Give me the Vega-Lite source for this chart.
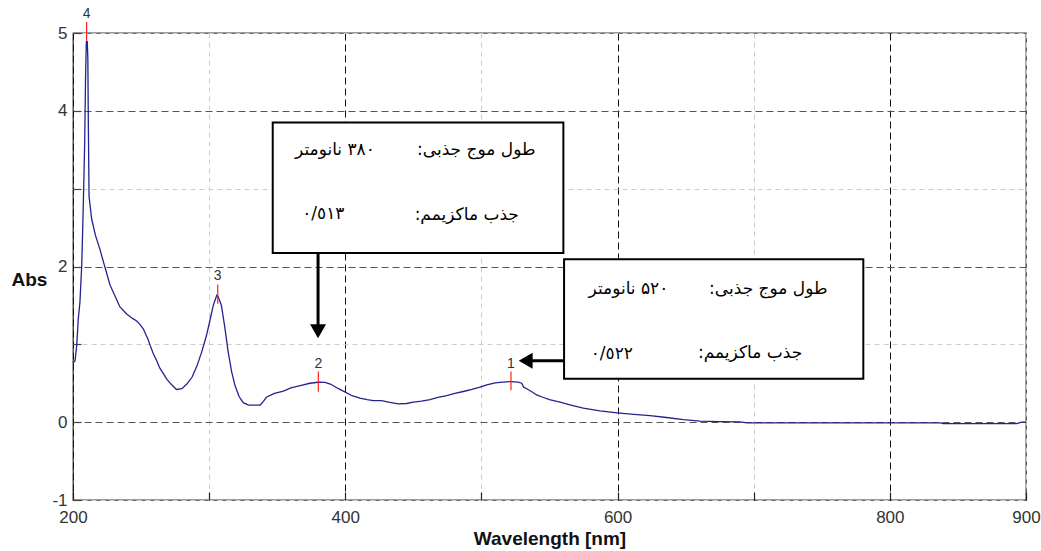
{
  "$schema": "https://vega.github.io/schema/vega-lite/v6.json",
  "width": 953,
  "height": 467,
  "autosize": {"type": "none"},
  "padding": {"left": 73, "top": 33, "right": 15, "bottom": 51},
  "background": "white",
  "config": {
    "view": {"stroke": "#3a3a3a", "strokeWidth": 1.3},
    "font": "Liberation Sans"
  },
  "datasets": {
    "spectrum": [
      {"nm": 200, "abs": 0.76}, {"nm": 201.5, "abs": 0.79}, {"nm": 202.7, "abs": 0.98},
      {"nm": 203.9, "abs": 1.33}, {"nm": 205.1, "abs": 1.54}, {"nm": 206.4, "abs": 2.01},
      {"nm": 207.2, "abs": 2.53}, {"nm": 208.1, "abs": 3.2}, {"nm": 208.6, "abs": 3.6},
      {"nm": 209.2, "abs": 4.41}, {"nm": 209.8, "abs": 4.89}, {"nm": 210.5, "abs": 4.89},
      {"nm": 210.9, "abs": 4.67}, {"nm": 211.3, "abs": 3.77}, {"nm": 211.8, "abs": 2.9},
      {"nm": 213.7, "abs": 2.61}, {"nm": 216.5, "abs": 2.4}, {"nm": 219.8, "abs": 2.22},
      {"nm": 222.5, "abs": 2.05}, {"nm": 224.8, "abs": 1.91}, {"nm": 227.0, "abs": 1.77},
      {"nm": 229.6, "abs": 1.67}, {"nm": 234.5, "abs": 1.48}, {"nm": 239.4, "abs": 1.39},
      {"nm": 244, "abs": 1.33}, {"nm": 246.8, "abs": 1.3}, {"nm": 249, "abs": 1.26},
      {"nm": 251.6, "abs": 1.2}, {"nm": 255, "abs": 1.07}, {"nm": 256.6, "abs": 0.99},
      {"nm": 259, "abs": 0.88}, {"nm": 261.5, "abs": 0.79}, {"nm": 263.9, "abs": 0.69},
      {"nm": 266.5, "abs": 0.62}, {"nm": 269, "abs": 0.55}, {"nm": 272.5, "abs": 0.48},
      {"nm": 276, "abs": 0.42}, {"nm": 280, "abs": 0.43}, {"nm": 283.6, "abs": 0.49},
      {"nm": 287.5, "abs": 0.58}, {"nm": 291, "abs": 0.72}, {"nm": 294.5, "abs": 0.9},
      {"nm": 298, "abs": 1.11}, {"nm": 300.5, "abs": 1.3}, {"nm": 303, "abs": 1.5},
      {"nm": 305.6, "abs": 1.63}, {"nm": 306.5, "abs": 1.62}, {"nm": 309, "abs": 1.5},
      {"nm": 311.5, "abs": 1.22}, {"nm": 314, "abs": 0.9}, {"nm": 316.5, "abs": 0.65},
      {"nm": 319, "abs": 0.47}, {"nm": 322, "abs": 0.33}, {"nm": 325, "abs": 0.25},
      {"nm": 329, "abs": 0.22}, {"nm": 332.6, "abs": 0.22}, {"nm": 337.5, "abs": 0.22},
      {"nm": 340, "abs": 0.27}, {"nm": 342, "abs": 0.32}, {"nm": 348, "abs": 0.37},
      {"nm": 354.6, "abs": 0.4}, {"nm": 360, "abs": 0.44}, {"nm": 367, "abs": 0.47},
      {"nm": 374, "abs": 0.5}, {"nm": 380, "abs": 0.513}, {"nm": 385, "abs": 0.51},
      {"nm": 389, "abs": 0.49}, {"nm": 395, "abs": 0.43}, {"nm": 400, "abs": 0.386},
      {"nm": 405, "abs": 0.34}, {"nm": 410.8, "abs": 0.31}, {"nm": 416, "abs": 0.29},
      {"nm": 420.6, "abs": 0.278}, {"nm": 426.7, "abs": 0.278}, {"nm": 431.6, "abs": 0.257},
      {"nm": 439, "abs": 0.235}, {"nm": 445, "abs": 0.24}, {"nm": 450, "abs": 0.257},
      {"nm": 456, "abs": 0.27}, {"nm": 462.2, "abs": 0.291}, {"nm": 468, "abs": 0.32},
      {"nm": 474.5, "abs": 0.342}, {"nm": 480.5, "abs": 0.37}, {"nm": 486.7, "abs": 0.394},
      {"nm": 493, "abs": 0.42}, {"nm": 499, "abs": 0.45}, {"nm": 504, "abs": 0.48},
      {"nm": 510, "abs": 0.506}, {"nm": 516, "abs": 0.515}, {"nm": 521, "abs": 0.522},
      {"nm": 527, "abs": 0.515}, {"nm": 529.6, "abs": 0.5}, {"nm": 531, "abs": 0.45},
      {"nm": 533.3, "abs": 0.43}, {"nm": 537, "abs": 0.39}, {"nm": 540.6, "abs": 0.35},
      {"nm": 545, "abs": 0.32}, {"nm": 550, "abs": 0.29}, {"nm": 557.7, "abs": 0.257},
      {"nm": 565, "abs": 0.223}, {"nm": 574.8, "abs": 0.18}, {"nm": 587, "abs": 0.145},
      {"nm": 599.8, "abs": 0.12}, {"nm": 612, "abs": 0.1}, {"nm": 623.8, "abs": 0.085},
      {"nm": 636, "abs": 0.06}, {"nm": 648.3, "abs": 0.033}, {"nm": 660.6, "abs": 0.013},
      {"nm": 675, "abs": 0.008}, {"nm": 690, "abs": 0.005}, {"nm": 695, "abs": -0.01},
      {"nm": 720, "abs": -0.01}, {"nm": 760, "abs": -0.01}, {"nm": 800, "abs": -0.01},
      {"nm": 837, "abs": -0.01}, {"nm": 839.3, "abs": -0.02}, {"nm": 860, "abs": -0.02},
      {"nm": 893, "abs": -0.02}, {"nm": 897, "abs": 0.0}, {"nm": 900, "abs": 0.0}
    ],
    "peaks": [
      {"nm": 210, "lo": 4.89, "hi": 5.14, "label": "4"},
      {"nm": 306.3, "lo": 1.52, "hi": 1.77, "label": "3"},
      {"nm": 380.2, "lo": 0.39, "hi": 0.65, "label": "2"},
      {"nm": 521.7, "lo": 0.41, "hi": 0.65, "label": "1"}
    ],
    "boxes": [
      {"x1": 346.7, "x2": 560.2, "y1": 2.175, "y2": 3.851},
      {"x1": 560.7, "x2": 780.5, "y1": 0.557, "y2": 2.092}
    ],
    "arrows": [
      {"x1": 380, "x2": 380, "y1": 2.175, "y2": 1.24},
      {"x1": 560.7, "x2": 537, "y1": 0.79, "y2": 0.79}
    ],
    "heads": [
      {"x": 380, "y": 1.168, "shape": "triangle-down"},
      {"x": 532.5, "y": 0.79, "shape": "triangle-left"}
    ],
    "notes": [
      {"x": 496.2, "y": 3.43, "text": "طول موج جذبی:\u200F"},
      {"x": 392.4, "y": 3.43, "text": "\u200F۳۸۰ نانومتر"},
      {"x": 489.2, "y": 2.6, "text": "جذب ماکزیمم:\u200F"},
      {"x": 383.9, "y": 2.61, "text": "٠/٥١٣"},
      {"x": 710.7, "y": 1.65, "text": "طول موج جذبی:\u200F"},
      {"x": 608.0, "y": 1.65, "text": "\u200F۵۲۰ نانومتر"},
      {"x": 697.3, "y": 0.83, "text": "جذب ماکزیمم:\u200F"},
      {"x": 595.8, "y": 0.81, "text": "٠/٥٢٢"}
    ]
  },
  "layer": [
    {
      "data": {"name": "spectrum"},
      "mark": {"type": "line", "color": "#23238f", "strokeWidth": 1.3, "interpolate": "linear"},
      "encoding": {
        "x": {
          "field": "nm", "type": "quantitative",
          "scale": {"domain": [200, 900], "nice": false, "zero": false},
          "axis": {
            "values": [200, 300, 400, 500, 600, 700, 800, 900],
            "labelExpr": "datum.value == 300 || datum.value == 500 || datum.value == 700 ? '' : toString(datum.value)",
            "domain": false,
            "grid": true,
            "gridColor": {"condition": {"test": "datum.value % 200 == 0", "value": "#111111"}, "value": "#cccccc"},
            "gridDash": {"condition": {"test": "datum.value % 200 == 0", "value": [7, 4]}, "value": [5, 4]},
            "gridWidth": 1,
            "tickSize": -8,
            "tickColor": "#222222",
            "tickWidth": 1.2,
            "labelPadding": 17,
            "labelFontSize": 17,
            "labelColor": "#333333",
            "labelFlush": false,
            "title": "Wavelength [nm]",
            "titleFontSize": 19,
            "titleFontWeight": "bold",
            "titleColor": "#111111",
            "titleBaseline": "alphabetic",
            "titleY": 44
          }
        },
        "y": {
          "field": "abs", "type": "quantitative",
          "scale": {"domain": [-1, 5], "nice": false, "zero": false},
          "axis": {
            "values": [-1, 0, 1, 2, 3, 4, 5],
            "labelExpr": "datum.value == 1 || datum.value == 3 ? '' : toString(datum.value)",
            "domain": false,
            "grid": true,
            "gridColor": {"condition": {"test": "datum.value % 2 == 0", "value": "#555555"}, "value": "#cccccc"},
            "gridDash": {"condition": {"test": "datum.value % 2 == 0", "value": [7, 4]}, "value": [5, 4]},
            "gridWidth": 1,
            "tickSize": -8,
            "tickColor": "#444444",
            "tickWidth": 1.2,
            "labelPadding": 14,
            "labelFontSize": 17,
            "labelColor": "#333333",
            "labelFlush": false,
            "title": "Abs",
            "titleAngle": 0,
            "titleFontSize": 19,
            "titleFontWeight": "bold",
            "titleColor": "#111111",
            "titleAlign": "center",
            "titleBaseline": "middle",
            "titleX": -44,
            "titleY": 246
          }
        }
      }
    },
    {
      "data": {"name": "peaks"},
      "mark": {"type": "rule", "color": "#ff2020", "strokeWidth": 1.2, "clip": false},
      "encoding": {
        "x": {"field": "nm", "type": "quantitative"},
        "y": {"field": "lo", "type": "quantitative"},
        "y2": {"field": "hi"}
      }
    },
    {
      "data": {"name": "peaks"},
      "mark": {"type": "text", "baseline": "bottom", "dy": -1, "fontSize": 14, "color": "#333333", "font": "Liberation Sans"},
      "encoding": {
        "x": {"field": "nm", "type": "quantitative"},
        "y": {"field": "hi", "type": "quantitative"},
        "text": {"field": "label"}
      }
    },
    {
      "data": {"name": "boxes"},
      "mark": {"type": "rect", "fill": "white", "stroke": "black", "strokeWidth": 2},
      "encoding": {
        "x": {"field": "x1", "type": "quantitative"},
        "x2": {"field": "x2"},
        "y": {"field": "y1", "type": "quantitative"},
        "y2": {"field": "y2"}
      }
    },
    {
      "data": {"name": "arrows"},
      "mark": {"type": "rule", "color": "black", "strokeWidth": 3},
      "encoding": {
        "x": {"field": "x1", "type": "quantitative"},
        "x2": {"field": "x2"},
        "y": {"field": "y1", "type": "quantitative"},
        "y2": {"field": "y2"}
      }
    },
    {
      "data": {"name": "heads"},
      "mark": {"type": "point", "filled": true, "color": "black", "opacity": 1, "size": 256},
      "encoding": {
        "x": {"field": "x", "type": "quantitative"},
        "y": {"field": "y", "type": "quantitative"},
        "shape": {"field": "shape", "type": "nominal", "scale": null}
      }
    },
    {
      "data": {"name": "notes"},
      "mark": {"type": "text", "font": "DejaVu Sans", "fontSize": 17, "color": "black", "align": "center", "baseline": "alphabetic"},
      "encoding": {
        "x": {"field": "x", "type": "quantitative"},
        "y": {"field": "y", "type": "quantitative"},
        "text": {"field": "text"}
      }
    }
  ]
}
